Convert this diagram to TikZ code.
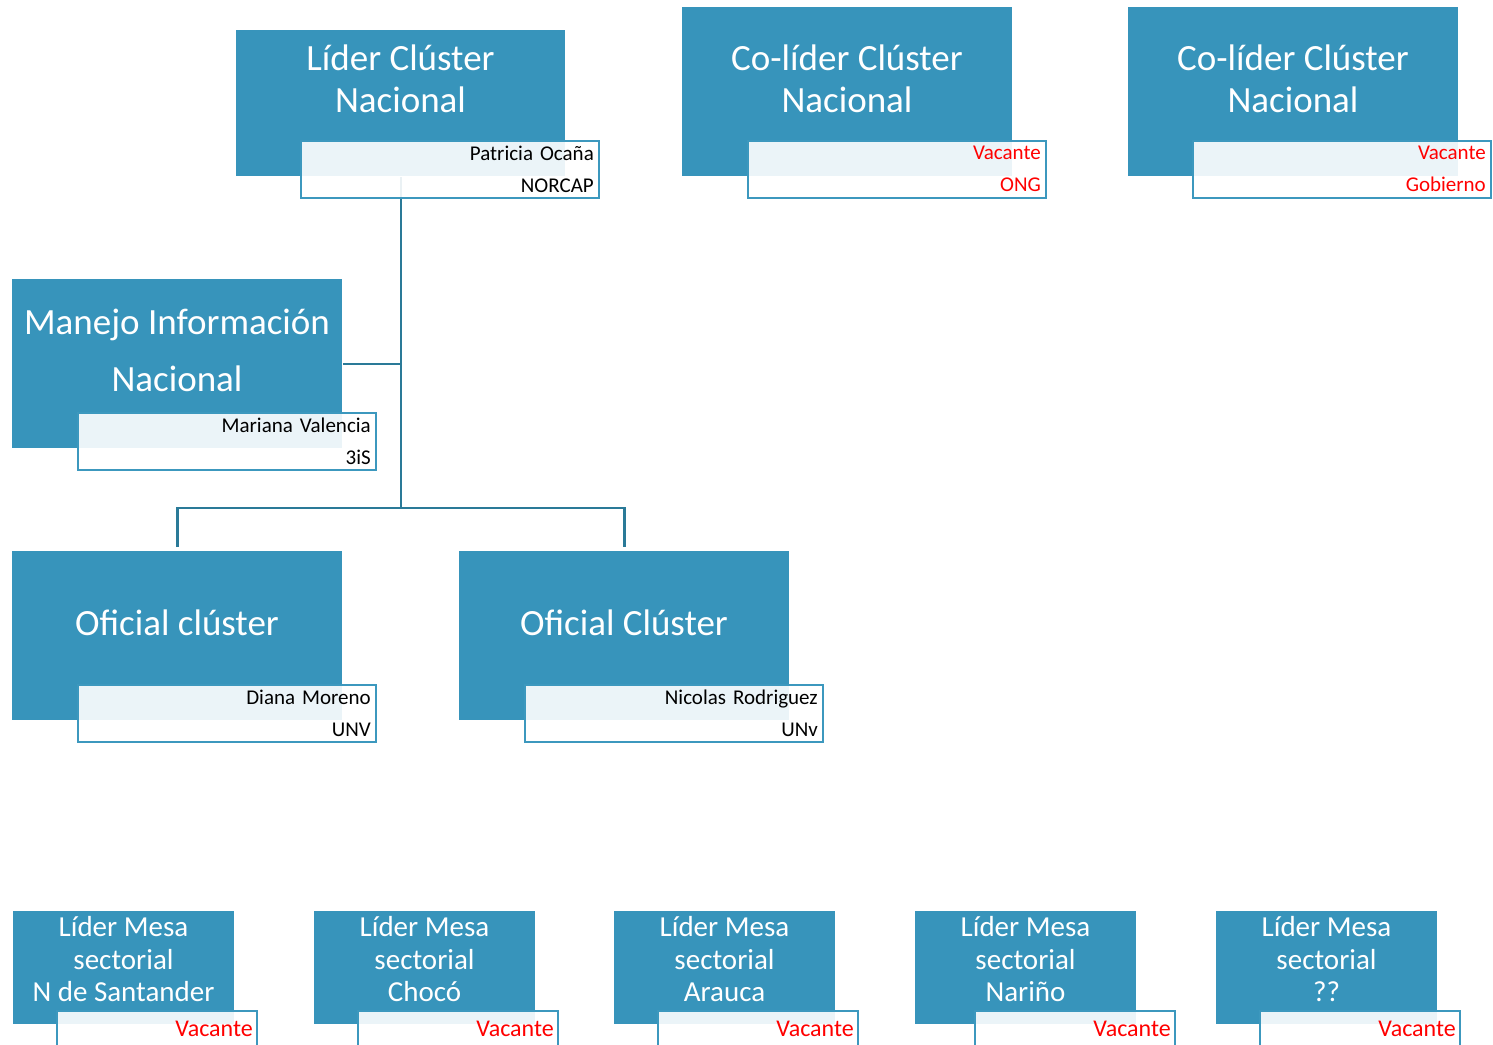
\documentclass[tikz,border=0pt]{standalone}
\usepackage{fontspec}
\setmainfont{Carlito}
\usepackage{xcolor}
\usepackage{tikz}
\usetikzlibrary{positioning}

\definecolor{cluster}{RGB}{55,148,187}
\definecolor{clusterline}{RGB}{42,122,152}
\definecolor{clusteredge}{RGB}{60,152,190}
\definecolor{vacante}{RGB}{255,0,0}

\begin{document}
\begin{tikzpicture}[x=0.5pt, y=-0.5pt,
    role/.style={shape=rectangle, fill=cluster, inner sep=0pt, anchor=north west},
    roletext/.style={text=white, align=center, inner sep=0pt, font=\fontsize{18.5}{21}\selectfont},
    namebox/.style={shape=rectangle, draw=clusteredge, line width=1pt, fill=white, fill opacity=0.9,
        text opacity=1, align=right, inner sep=2.5pt, minimum width=149pt, minimum height=28.5pt,
        text width=144pt, anchor=north east, font=\fontsize{10.5}{16}\selectfont},
    mesabox/.style={namebox, minimum width=100pt, minimum height=20pt, text width=96pt,
        inner sep=2pt, text depth=2.5pt, text=vacante, font=\fontsize{12}{14}\selectfont},
    link/.style={draw=clusterline, line width=1.3pt}]
    \useasboundingbox (0,0) rectangle (1493,1044);

    % cargos nacionales
    \node[role, minimum width=164.5pt, minimum height=73pt] (lider) at (236,30) {};
    \node[role, minimum width=165pt, minimum height=84.5pt] (colidA) at (682,7) {};
    \node[role, minimum width=165pt, minimum height=84.5pt] (colidB) at (1128,7) {};
    \node[role, minimum width=165pt, minimum height=84.5pt] (manejo) at (12,279) {};
    \node[role, minimum width=165pt, minimum height=84.5pt] (oficialA) at (12,551) {};
    \node[role, minimum width=165pt, minimum height=84.5pt] (oficialB) at (459,551) {};

    \node[roletext] (lider-t) at (400.5,79) {Líder Clúster\\Nacional};
    \node[roletext] (colidA-t) at (847,79) {Co-líder Clúster\\Nacional};
    \node[roletext] (colidB-t) at (1293,79) {Co-líder Clúster\\Nacional};
    \node[roletext, font=\fontsize{18.5}{28.5}\selectfont] (manejo-t) at (177,350) {Manejo Información\\Nacional};
    \node[roletext] (oficialA-t) at (177,623) {Oficial clúster};
    \node[roletext] (oficialB-t) at (624,623) {Oficial Clúster};

    % lineas
    \coordinate (row) at (0,508);
    \coordinate (hub) at (lider.south |- row);
    \draw[link] (lider.south) -- (hub);
    \draw[link] (manejo.east) -- (manejo.east -| hub);
    \draw[link] ([yshift=2pt]oficialA.north) |- (hub) -| ([yshift=2pt]oficialB.north);

    \node[namebox] (lider-nm) at ([xshift=17pt, yshift=18.5pt]lider.south east) {Patricia Ocaña\\NORCAP};
    \node[namebox, text=vacante] (colidA-nm) at ([xshift=17pt, yshift=18.5pt]colidA.south east) {Vacante\\ONG};
    \node[namebox, text=vacante] (colidB-nm) at ([xshift=16.5pt, yshift=18.5pt]colidB.south east) {Vacante\\Gobierno};
    \node[namebox] (manejo-nm) at ([xshift=17pt, yshift=18.5pt]manejo.south east) {Mariana Valencia\\3iS};
    \node[namebox] (oficialA-nm) at ([xshift=17pt, yshift=18.5pt]oficialA.south east) {Diana Moreno\\UNV};
    \node[namebox] (oficialB-nm) at ([xshift=17pt, yshift=18.5pt]oficialB.south east) {Nicolas Rodriguez\\UNv};

    % mesas sectoriales
    \foreach \x/\mesa/\lugar/\dx in {13/nsant/N de Santander/0, 314/choco/Chocó/0, 614/arauca/Arauca/0,
        915/narino/Nariño/8, 1216/otra/??/0} {
      \node[role, minimum width=110.5pt, minimum height=56.5pt] (\mesa) at (\x,911) {};
      \node[roletext, font=\fontsize{14.5}{16.25}\selectfont] (\mesa-t) at (\x+110.5,959.5)
        {Líder Mesa\\sectorial\\\lugar};
      \node[mesabox] (\mesa-nm) at ([xshift=11.5pt+\dx pt, yshift=7.5pt]\mesa.south east) {Vacante};
    }
\end{tikzpicture}
\end{document}
